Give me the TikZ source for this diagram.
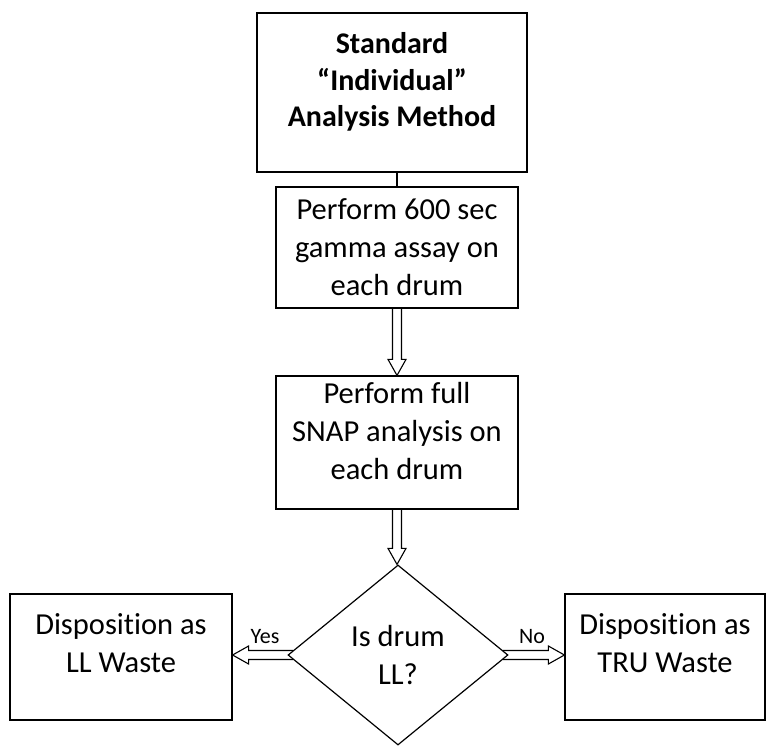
\documentclass[tikz,border=0pt]{standalone}
\usepackage{fontspec}
\setmainfont{Carlito}[Ligatures=NoCommon]
\usetikzlibrary{shapes.geometric,calc}

\tikzset{
  box/.style={draw, line width=1.2pt, rectangle, inner sep=0pt},
  dec/.style={draw, line width=1.2pt, diamond, inner sep=0pt},
  btext/.style={anchor=north, align=center, inner sep=0pt,
    font=\fontsize{30.5}{38}\selectfont},
  ttext/.style={anchor=north, align=center, inner sep=0pt,
    font=\bfseries\fontsize{30}{36.5}\selectfont},
  lbl/.style={inner sep=0pt, font=\fontsize{22}{26}\selectfont},
  link/.style={line width=1.2pt},
  blockarr/.style={line width=1.1pt, line join=miter}
}

% hollow block arrows between named nodes
\newcommand\hollowdown[2]{%
  \draw[blockarr] let \p1=(#1.south), \p2=(#2.north) in
    (\x1-4.5pt,\y1) -- (\x1-4.5pt,\y2+16pt) -- (\x1-9pt,\y2+16pt) -- (\x1,\y2)
    -- (\x1+9pt,\y2+16pt) -- (\x1+4.5pt,\y2+16pt) -- (\x1+4.5pt,\y1);}
\newcommand\hollowleft[2]{%
  \draw[blockarr] let \p1=(#1.west), \p2=(#2.east) in
    (\x1+5.5pt,\y1+4.5pt) -- (\x2+16pt,\y1+4.5pt) -- (\x2+16pt,\y1+9pt) -- (\x2,\y1)
    -- (\x2+16pt,\y1-9pt) -- (\x2+16pt,\y1-4.5pt) -- (\x1+5.5pt,\y1-4.5pt);}
\newcommand\hollowright[2]{%
  \draw[blockarr] let \p1=(#1.east), \p2=(#2.west) in
    (\x1-5.5pt,\y1+4.5pt) -- (\x2-16pt,\y1+4.5pt) -- (\x2-16pt,\y1+9pt) -- (\x2,\y1)
    -- (\x2-16pt,\y1-9pt) -- (\x2-16pt,\y1-4.5pt) -- (\x1-5.5pt,\y1-4.5pt);}

\begin{document}
\begin{tikzpicture}[x=1pt, y=-1pt]
\useasboundingbox (0,0) rectangle (775,746);

% boxes
\node[box, minimum width=270pt, minimum height=159pt] (method) at (392,92.5) {};
\node[box, minimum width=242pt, minimum height=121pt] (assay) at (397,247.5) {};
\node[box, minimum width=242pt, minimum height=133pt] (snap) at (397,442.5) {};
\node[dec, minimum width=220pt, minimum height=180pt] (isll) at (398,655) {};
\node[box, minimum width=222pt, minimum height=126pt] (llw) at (121,657) {};
\node[box, minimum width=200pt, minimum height=126pt] (truw) at (665,657) {};

% texts
\node[ttext] (method-t) at ($(method.north)+(0,20)$) {Standard\\``Individual''\\Analysis Method};
\node[btext] (assay-t) at ($(assay.north)+(0,12)$) {Perform 600 sec\\gamma assay on\\each drum};
\node[btext] (snap-t) at ($(snap.north)+(0,7)$) {Perform full\\SNAP analysis on\\each drum};
\node[btext] (isll-t) at ($(isll.center)+(0,-30)$) {Is drum\\LL?};
\node[btext] (llw-t) at ($(llw.north)+(0,20)$) {Disposition as\\LL Waste};
\node[btext] (truw-t) at ($(truw.north)+(0,20)$) {Disposition as\\TRU Waste};

% connectors
\draw[link] (assay.north) -- (assay.north |- method.south);
\hollowdown{assay}{snap}
\hollowdown{snap}{isll}
\hollowleft{isll}{llw}
\hollowright{isll}{truw}

\node[lbl] (yes) at (265,637) {Yes};
\node[lbl] (no) at (532,637) {No};
\end{tikzpicture}
\end{document}
